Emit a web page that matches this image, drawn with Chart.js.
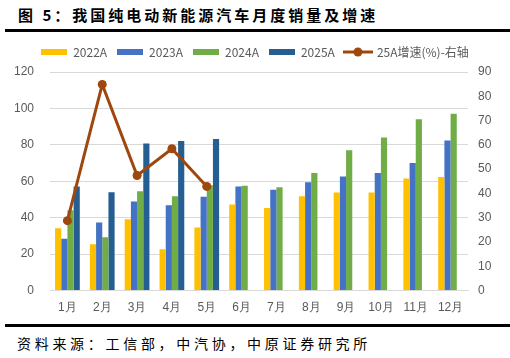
<!DOCTYPE html>
<html>
<head>
<meta charset="utf-8">
<script src="https://cdn.jsdelivr.net/npm/chart.js@4.4.1/dist/chart.umd.min.js"></script>
<style>
    body { margin: 0; width: 510px; height: 358px; background: #fff; position: relative; overflow: hidden; font-family: "Noto Sans CJK SC", sans-serif; }
    #title { position: absolute; left: 18px; top: 4px; font-size: 15px; font-weight: bold; letter-spacing: 3px; color: #000; white-space: nowrap; }
    .rule { position: absolute; left: 5px; width: 505px; height: 3px; background: #000; }
    #wrap { position: absolute; left: 0; top: 36px; width: 510px; height: 281px; }
    #src { position: absolute; left: 17px; top: 333px; font-size: 14px; letter-spacing: 3.7px; color: #000; white-space: nowrap; }
</style>
</head>
<body>
<div id="title">图 5：我国纯电动新能源汽车月度销量及增速</div>
<div class="rule" style="top:29px"></div>
<div id="wrap"><canvas id="salesChart"></canvas></div>
<div class="rule" style="top:324px"></div>
<div id="src">资料来源：工信部，中汽协，中原证券研究所</div>
<script>
const months = ['1月', '2月', '3月', '4月', '5月', '6月', '7月', '8月', '9月', '10月', '11月', '12月'];
const sales2022 = [34.2, 25.5, 39.2, 22.7, 34.6, 47.3, 45.4, 51.8, 53.8, 53.8, 61.5, 62.3];
const sales2023 = [28.4, 37.4, 48.9, 46.9, 51.5, 57.1, 55.3, 59.5, 62.6, 64.5, 70.0, 82.4];
const sales2024 = [44.1, 29.3, 54.6, 51.8, 57.9, 57.5, 56.8, 64.5, 77.1, 84.1, 94.0, 97.1];
const sales2025 = [57.1, 54.0, 80.8, 82.1, 83.2, null, null, null, null, null, null, null];
const growth2025 = [28.8, 84.9, 47.4, 58.4, 42.9, null, null, null, null, null, null, null];

const gray = '#595959';

function barIcon(color) {
    const c = document.createElement('canvas');
    c.width = 26; c.height = 6;
    const g = c.getContext('2d');
    g.fillStyle = color;
    g.fillRect(0, 0, 26, 6);
    return c;
}

function lineIcon(color) {
    const c = document.createElement('canvas');
    c.width = 30; c.height = 10;
    const g = c.getContext('2d');
    g.strokeStyle = color;
    g.lineWidth = 3;
    g.beginPath(); g.moveTo(0, 5); g.lineTo(30, 5); g.stroke();
    g.fillStyle = color;
    g.beginPath(); g.arc(15, 5, 4.5, 0, Math.PI * 2); g.fill();
    return c;
}

// legend needs a bit more room below it than its own padding gives
const legendSpace = {
    id: 'legendSpace',
    beforeLayout: function (chart) {
        const lg = chart.legend;
        if (lg && !lg._padded) {
            const fit = lg.fit;
            lg.fit = function () { fit.call(this); this.height += 4; };
            lg._padded = true;
        }
    }
};

document.addEventListener('DOMContentLoaded', function () {
    const ctx = document.getElementById('salesChart').getContext('2d');
    new Chart(ctx, {
        type: 'bar',
        data: {
            labels: months,
            datasets: [
                { label: '2022A', data: sales2022, backgroundColor: '#FFC000', order: 1 },
                { label: '2023A', data: sales2023, backgroundColor: '#4472C4', order: 1 },
                { label: '2024A', data: sales2024, backgroundColor: '#70AD47', order: 1 },
                { label: '2025A', data: sales2025, backgroundColor: '#255E91', order: 1 },
                {
                    type: 'line', label: '25A增速(%)-右轴', data: growth2025, yAxisID: 'y1', order: 0,
                    borderColor: '#9E480E', backgroundColor: '#9E480E', borderWidth: 3,
                    pointRadius: 4.5, pointBackgroundColor: '#9E480E', pointBorderWidth: 0, tension: 0
                }
            ]
        },
        plugins: [legendSpace],
        options: {
            responsive: true,
            maintainAspectRatio: false,
            animation: false,
            devicePixelRatio: 1,
            datasets: { bar: { categoryPercentage: 0.71, barPercentage: 1, borderWidth: 0 } },
            layout: { padding: { top: 0, bottom: 0, left: 0, right: 0 } },
            plugins: {
                tooltip: { enabled: false },
                legend: {
                    position: 'top',
                    labels: {
                        color: gray,
                        font: { size: 12, family: '"Noto Sans CJK SC", sans-serif' },
                        usePointStyle: true,
                        pointStyleWidth: 26,
                        padding: 10,
                        generateLabels: function (chart) {
                            return chart.data.datasets.map(function (ds, i) {
                                return {
                                    text: ds.label,
                                    fontColor: gray,
                                    datasetIndex: i,
                                    pointStyle: ds.type === 'line' ? lineIcon(ds.borderColor) : barIcon(ds.backgroundColor),
                                    lineWidth: 0
                                };
                            });
                        }
                    }
                }
            },
            scales: {
                x: {
                    grid: { display: false },
                    border: { color: '#D9D9D9' },
                    ticks: { color: gray, font: { size: 12 }, padding: 2 }
                },
                y: {
                    position: 'left', min: 0, max: 120,
                    ticks: { stepSize: 20, color: gray, font: { size: 12 }, padding: 16 },
                    grid: { color: '#D9D9D9', drawTicks: false },
                    border: { display: false },
                    afterFit: function (s) { s.width = 50; }
                },
                y1: {
                    position: 'right', min: 0, max: 90,
                    ticks: { stepSize: 10, color: gray, font: { size: 12 }, padding: 10 },
                    grid: { display: false, drawTicks: false },
                    border: { display: false },
                    afterFit: function (s) { s.width = 42; }
                }
            }
        }
    });
});
</script>
</body>
</html>
